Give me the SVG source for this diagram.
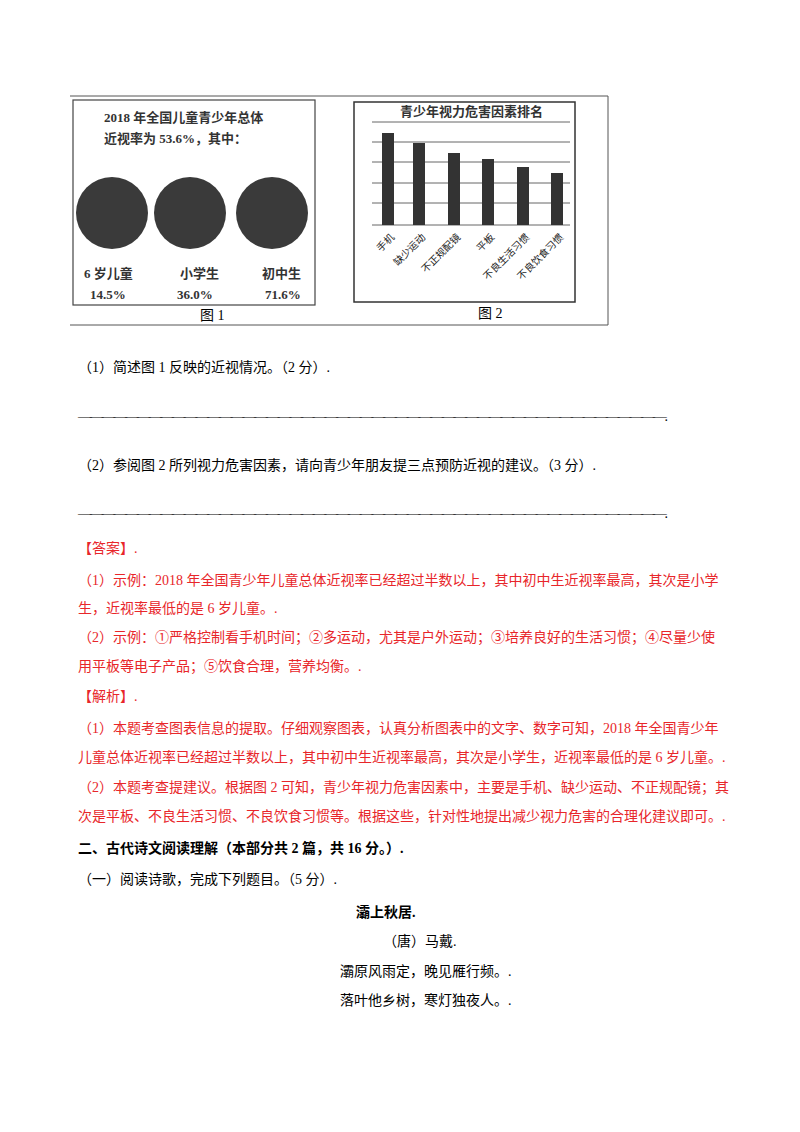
<svg xmlns="http://www.w3.org/2000/svg" width="800" height="1132" viewBox="0 0 800 1132">
<style>
text{font-family:"Liberation Serif","Noto Sans CJK SC",serif;font-size:14px;fill:#000}
.r{fill:#e8262a}
.b{font-weight:bold}
.f{font-family:"Liberation Serif","Noto Sans CJK SC",serif;font-size:13px;fill:#333;font-weight:bold}
.s{font-size:10px;fill:#222}
.bar{fill:#333}
.g{stroke:#666;stroke-width:1}
</style>
<rect width="800" height="1132" fill="#fff"/>
<g id="figures">
<line x1="70" y1="96" x2="608" y2="96" stroke="#555"/>
<line x1="608" y1="96" x2="608" y2="325" stroke="#555"/>
<line x1="70" y1="325" x2="608" y2="325" stroke="#555"/>
<rect x="73" y="100" width="242" height="205" fill="none" stroke="#444" stroke-width="1.2"/>
<text class="f" x="104" y="122" font-size="16.5">2018 年全国儿童青少年总体</text>
<text class="f" x="104" y="143" font-size="16.5">近视率为 53.6%，其中：</text>
<circle cx="112" cy="213" r="36" fill="#3a3a3a"/>
<circle cx="190" cy="213" r="36" fill="#3a3a3a"/>
<circle cx="272" cy="213" r="36" fill="#3a3a3a"/>
<text class="f" x="84" y="278">6 岁儿童</text>
<text class="f" x="180" y="278">小学生</text>
<text class="f" x="262" y="278">初中生</text>
<text class="f" x="90" y="299">14.5%</text>
<text class="f" x="177" y="299">36.0%</text>
<text class="f" x="265" y="299">71.6%</text>
<text x="200" y="320" font-size="12" fill="#444">图 1</text>
<rect x="354" y="102" width="221" height="200" fill="none" stroke="#333" stroke-width="1.5"/>
<text class="f" x="400" y="116">青少年视力危害因素排名</text>
<g class="g">
<line x1="372" y1="122" x2="570" y2="122"/>
<line x1="372" y1="142" x2="570" y2="142"/>
<line x1="372" y1="162" x2="570" y2="162"/>
<line x1="372" y1="183" x2="570" y2="183"/>
<line x1="372" y1="203" x2="570" y2="203"/>
<line x1="372" y1="225" x2="570" y2="225"/>
</g>
<rect class="bar" x="382" y="133" width="12" height="92"/>
<rect class="bar" x="413" y="143" width="12" height="82"/>
<rect class="bar" x="448" y="153" width="12" height="72"/>
<rect class="bar" x="482" y="159" width="12" height="66"/>
<rect class="bar" x="517" y="167" width="12" height="58"/>
<rect class="bar" x="551" y="173" width="12" height="52"/>
<text class="s" text-anchor="end" transform="translate(395,238) rotate(-45)">手机</text>
<text class="s" text-anchor="end" transform="translate(426,238) rotate(-45)">缺少运动</text>
<text class="s" text-anchor="end" transform="translate(461,238) rotate(-45)">不正规配镜</text>
<text class="s" text-anchor="end" transform="translate(495,238) rotate(-45)">平板</text>
<text class="s" text-anchor="end" transform="translate(530,238) rotate(-45)">不良生活习惯</text>
<text class="s" text-anchor="end" transform="translate(564,238) rotate(-45)">不良饮食习惯</text>
<text x="478" y="318" font-size="12" fill="#444">图 2</text>
</g>
<g id="text">
<text x="78" y="372">（1）简述图 1 反映的近视情况。（2 分）.</text>
<text x="78" y="421" textLength="590" lengthAdjust="spacing">— — — — — — — — — — — — — — — — — — — — — — — — — — — — — — — — — — — — — — — — — — — — — — — — — — .</text>
<text x="78" y="470">（2）参阅图 2 所列视力危害因素，请向青少年朋友提三点预防近视的建议。（3 分）.</text>
<text x="78" y="518" textLength="590" lengthAdjust="spacing">— — — — — — — — — — — — — — — — — — — — — — — — — — — — — — — — — — — — — — — — — — — — — — — — — — .</text>
<text class="r" x="78" y="553">【答案】.</text>
<text class="r" x="78" y="585">（1）示例：2018 年全国青少年儿童总体近视率已经超过半数以上，其中初中生近视率最高，其次是小学</text>
<text class="r" x="78" y="613">生，近视率最低的是 6 岁儿童。.</text>
<text class="r" x="78" y="642">（2）示例：①严格控制看手机时间；②多运动，尤其是户外运动；③培养良好的生活习惯；④尽量少使</text>
<text class="r" x="78" y="671">用平板等电子产品；⑤饮食合理，营养均衡。.</text>
<text class="r" x="78" y="701">【解析】.</text>
<text class="r" x="78" y="733">（1）本题考查图表信息的提取。仔细观察图表，认真分析图表中的文字、数字可知，2018 年全国青少年</text>
<text class="r" x="78" y="762">儿童总体近视率已经超过半数以上，其中初中生近视率最高，其次是小学生，近视率最低的是 6 岁儿童。.</text>
<text class="r" x="78" y="792">（2）本题考查提建议。根据图 2 可知，青少年视力危害因素中，主要是手机、缺少运动、不正规配镜；其</text>
<text class="r" x="78" y="821">次是平板、不良生活习惯、不良饮食习惯等。根据这些，针对性地提出减少视力危害的合理化建议即可。.</text>
<text class="b" x="78" y="853">二、古代诗文阅读理解（本部分共 2 篇，共 16 分。）.</text>
<text x="78" y="884">（一）阅读诗歌，完成下列题目。（5 分）.</text>
<text class="b" x="356" y="917">灞上秋居.</text>
<text x="383" y="946">（唐）马戴.</text>
<text x="340" y="976">灞原风雨定，晚见雁行频。.</text>
<text x="340" y="1005">落叶他乡树，寒灯独夜人。.</text>
</g>
</svg>
